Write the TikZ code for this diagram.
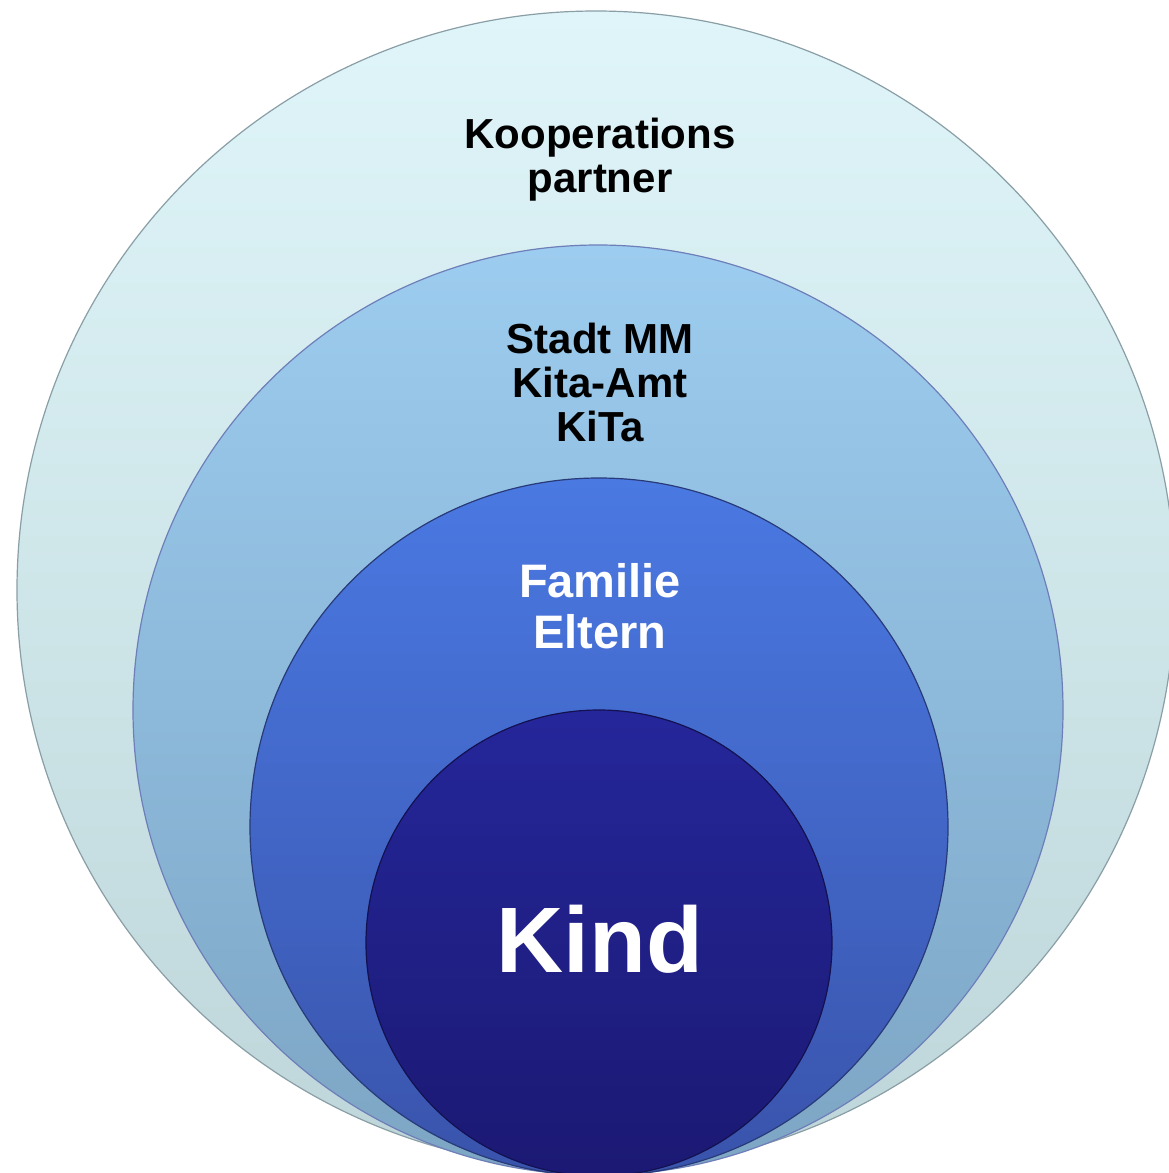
\documentclass[tikz,border=0pt]{standalone}
\usepackage{fontspec}
\setmainfont{Liberation Sans}
\definecolor{c1t}{HTML}{DFF5F9}\definecolor{c1b}{HTML}{BED6D9}
\definecolor{c2t}{HTML}{9CCCEF}\definecolor{c2b}{HTML}{7DA5C4}
\definecolor{c3t}{HTML}{4A79E2}\definecolor{c3b}{HTML}{3953AB}
\definecolor{c4t}{HTML}{25269A}\definecolor{c4b}{HTML}{1B1973}
\definecolor{rim}{HTML}{8A9EA6}
\begin{document}
\begin{tikzpicture}[x=1pt,y=1pt,
  ring/.style={circle,inner sep=0pt,draw=rim,line width=1.2pt},
  lbl/.style={anchor=base,inner sep=0pt,font=\bfseries}]
\useasboundingbox (0,0) rectangle (1169,-1173);
\clip (0,0) rectangle (1169,-1173);
\fill[white] (0,0) rectangle (1169,-1173);
\node[ring,minimum size=1158pt,top color=c1t,bottom color=c1b] (r1) at (596,-590) {};
\node[ring,minimum size=930pt,top color=c2t,bottom color=c2b,draw=rim!80!blue] (r2) at (598,-710) {};
\node[ring,minimum size=698pt,top color=c3t,bottom color=c3b,draw=c3b!70!black] (r3) at (599,-827) {};
\node[ring,minimum size=466pt,top color=c4t,bottom color=c4b,draw=c4b!70!black] (r4) at (599,-943) {};
\node[lbl,font=\fontsize{42}{44}\selectfont\bfseries] (t1a) at (600,-148) {Kooperations};
\node[lbl,font=\fontsize{42}{44}\selectfont\bfseries] (t1b) at (600,-192) {partner};
\node[lbl,font=\fontsize{42}{44}\selectfont\bfseries] (t2a) at (600,-353) {Stadt MM};
\node[lbl,font=\fontsize{42}{44}\selectfont\bfseries] (t2b) at (600,-397) {Kita-Amt};
\node[lbl,font=\fontsize{42}{44}\selectfont\bfseries] (t2c) at (600,-441) {KiTa};
\node[lbl,text=white,font=\fontsize{47}{51}\selectfont\bfseries] (t3a) at (600,-597) {Familie};
\node[lbl,text=white,font=\fontsize{47}{51}\selectfont\bfseries] (t3b) at (600,-648) {Eltern};
\node[lbl,text=white,font=\fontsize{93}{100}\selectfont\bfseries] (t4) at (600,-972) {Kind};
\end{tikzpicture}
\end{document}
